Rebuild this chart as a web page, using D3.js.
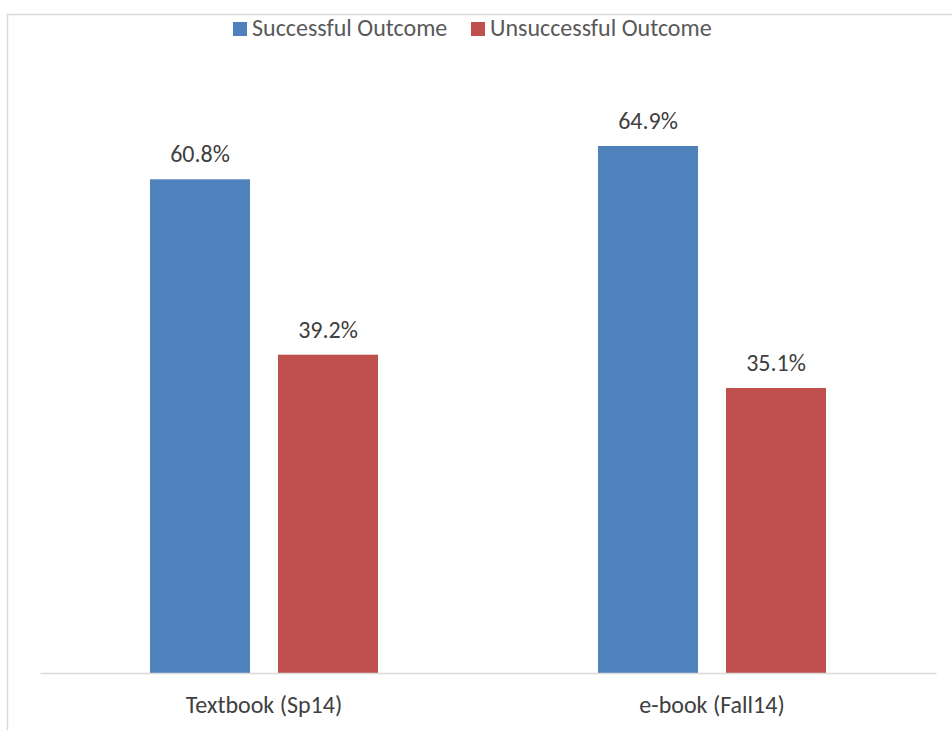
<!DOCTYPE html>
<html>
<head>
<meta charset="utf-8">
<script src="https://cdn.jsdelivr.net/npm/d3@7"></script>
<style>
  body { margin: 0; background: #fff; }
  text { font-family: Carlito, Calibri, "Liberation Sans", Arial, sans-serif; fill: #404040; }
</style>
</head>
<body>
<script>
'use strict';

// chart values
const categories = ["Textbook (Sp14)", "e-book (Fall14)"];
const seriesNames = ["Successful Outcome", "Unsuccessful Outcome"];
const successful = [0.608, 0.649];
const unsuccessful = [0.392, 0.351];
const colors = ["#4F81BD", "#C0504D"];

(function() {
  const width = 952, height = 730;
  const svg = d3.select('body').append('svg')
    .attr('width', width)
    .attr('height', height);

  // chart border
  svg.append('rect')
    .attr('x', 7.5).attr('y', 14.5)
    .attr('width', 960).attr('height', 740)
    .attr('fill', 'none')
    .attr('stroke', '#d9d9d9')
    .attr('stroke-width', 1.5);

  const rows = categories.map((c, i) => ({ cat: c, vals: [successful[i], unsuccessful[i]] }));

  // outer band = category, inner band = series
  const x0 = d3.scaleBand().domain(categories).range([40, 936]);
  const x1 = d3.scaleBand().domain(seriesNames)
    .range([0, x0.bandwidth()])
    .paddingInner(28 / 128)
    .paddingOuter(220 / 256);
  const y = d3.scaleLinear().domain([0, 0.7]).range([673, 104.6]);

  const groups = svg.selectAll('.grp')
    .data(rows)
    .enter()
    .append('g')
      .attr('class', 'grp')
      .attr('transform', d => 'translate(' + x0(d.cat) + ',0)');

  groups.selectAll('rect')
    .data(d => d.vals.map((v, j) => ({ name: seriesNames[j], v: v, j: j })))
    .enter()
    .append('rect')
      .attr('x', d => x1(d.name))
      .attr('y', d => y(d.v))
      .attr('width', x1.bandwidth())
      .attr('height', d => y(0) - y(d.v))
      .attr('fill', d => colors[d.j]);

  // value labels
  groups.selectAll('.lbl')
    .data(d => d.vals.map((v, j) => ({ name: seriesNames[j], v: v })))
    .enter()
    .append('text')
      .attr('class', 'lbl')
      .attr('x', d => x1(d.name) + x1.bandwidth() / 2)
      .attr('y', d => y(d.v) - 17)
      .attr('text-anchor', 'middle')
      .style('font-size', '24px')
      .text(d => d3.format('.1%')(d.v));

  // baseline + category labels
  const xAxis = d3.axisBottom(x0).tickSize(0).tickPadding(23);
  const ax = svg.append('g')
    .attr('transform', 'translate(0,' + y(0) + ')')
    .call(xAxis);
  ax.select('.domain').attr('stroke', '#d9d9d9').attr('stroke-width', 1.5);
  ax.selectAll('text')
    .style('font-size', '24px')
    .attr('fill', '#595959')
    .style('font-family', 'Carlito, Calibri, "Liberation Sans", Arial, sans-serif');

  // legend
  const legendX = [233, 471];
  const legend = svg.selectAll('.leg')
    .data(seriesNames)
    .enter()
    .append('g')
      .attr('class', 'leg')
      .attr('transform', (d, i) => 'translate(' + legendX[i] + ',22)');
  legend.append('rect')
    .attr('width', 14).attr('height', 14)
    .attr('fill', (d, i) => colors[i]);
  legend.append('text')
    .attr('x', 19)
    .attr('y', 14)
    .style('font-size', '24px')
    .style('fill', '#595959')
    .text(d => d);
})();
</script>
</body>
</html>
